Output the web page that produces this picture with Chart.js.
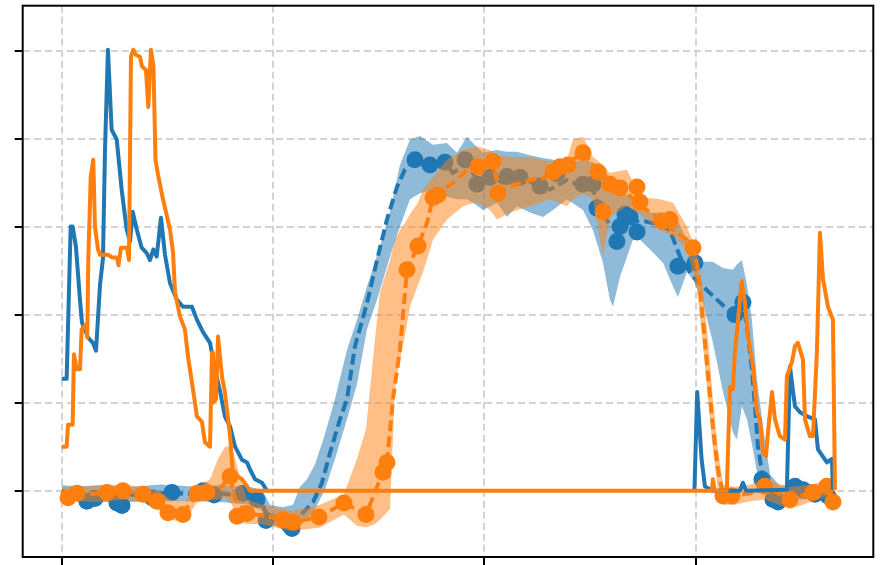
<!DOCTYPE html>
<html>
<head>
<meta charset="utf-8">
<script src="https://cdn.jsdelivr.net/npm/chart.js@4"></script>
<style>
  html, body { margin: 0; padding: 0; background: #fff; }
</style>
</head>
<body>
<canvas id="G1" width="880" height="565"></canvas>
<script>
const xTicks = [0, 200, 400, 600];
const yTicks = [0, 1, 2, 3, 4, 5];

// raw signals (null = no reading, the line is broken there)
const blueRawX = [0, 4.7, 8.5, 10.4, 13.5, 17.3, 19.2, 24.9, 29.6, 32.5, 36.3, 39.1, 41.0, 43.8, 47.3, 52.1, 56.8, 61.5, 64.7, 67.2, 71.0, 75.7, 80.5, 83.6, 86.7, 89.9, 94.0, 97.8, 102.5, 109.1, 114.8, 123.3, 128.1, 133.8, 140.4, 145.2, 149.9, 154.6, 159.4, 164.1, 170.7, 175.5, 178.3, 183.0, 189.6, 194.3, 400.0, 598.0, 599.0, 601.6, 605.8, 608.9, 615.5, 642.1, 644.9, 647.8, 686.5, 689.4, 694.1, 698.9, 706.4, 713.1, 715.9, 724.4, 729.1, 730.1];
const blueRawY = [1.27, 1.27, 3.00, 3.00, 2.77, 2.17, 1.91, 1.74, 1.68, 1.59, 2.34, 2.64, 3.87, 5.01, 4.10, 3.99, 3.42, 2.97, 2.83, 3.17, 2.97, 2.76, 2.70, 2.62, 2.74, 2.66, 3.10, 2.68, 2.36, 2.17, 2.09, 2.09, 1.94, 1.80, 1.68, 1.38, 1.13, 0.84, 0.73, 0.50, 0.35, 0.32, 0.24, 0.13, 0.09, 0.00, null, 0.00, 0.01, 1.12, 0.35, 0.05, 0.00, 0.00, 0.09, 0.00, 0.01, 1.41, 0.96, 0.89, 0.84, 0.81, 0.47, 0.32, 0.36, 0.01];

const orangeRawX = [0, 4.7, 6.0, 10.4, 11.6, 14.2, 17.3, 18.9, 23.0, 24.2, 25.2, 27.5, 29.9, 31.5, 34.4, 36.3, 43.8, 47.6, 52.3, 53.8, 56.1, 61.8, 63.7, 65.6, 67.8, 70.3, 74.1, 76.0, 79.8, 82.0, 84.5, 86.9, 88.8, 91.2, 95.9, 102.5, 105.4, 107.3, 112.0, 116.7, 119.6, 123.3, 128.1, 132.8, 135.6, 140.4, 142.3, 143.2, 146.1, 148.0, 151.7, 154.6, 159.4, 162.2, 166.9, 170.7, 178.3, 615.5, 616.4, 618.3, 629.6, 632.6, 635.4, 637.3, 643.7, 646.8, 649.7, 654.4, 658.2, 661.0, 663.9, 666.7, 668.6, 672.4, 675.2, 679.9, 684.7, 686.5, 691.3, 694.1, 696.9, 701.7, 703.6, 708.3, 711.2, 714.9, 717.8, 720.7, 725.4, 730.1, 732.0];
const orangeRawY = [0.50, 0.50, 0.75, 0.75, 1.55, 1.38, 1.38, 1.83, 1.89, 1.74, 2.62, 3.57, 3.76, 3.00, 2.74, 2.68, 2.68, 2.65, 2.65, 2.56, 2.76, 2.76, 2.62, 4.93, 5.01, 4.95, 4.93, 4.82, 4.78, 4.36, 5.01, 4.82, 3.76, 3.59, 3.31, 2.97, 2.71, 2.25, 1.98, 1.83, 1.52, 1.23, 0.84, 0.78, 0.55, 0.50, 1.57, 1.00, 1.04, 1.75, 1.30, 1.11, 0.62, 0.16, 0.16, 0.13, 0.00, 0.00, 0.13, 0.00, 0.00, 1.18, 1.15, 1.57, 2.38, 2.13, 1.75, 1.41, 0.89, 0.81, 0.43, 0.39, 0.66, 1.12, 0.81, 0.62, 0.58, 1.30, 1.46, 1.64, 1.68, 1.49, 0.81, 0.62, 0.62, 1.57, 2.93, 2.40, 2.09, 1.94, 0.01];

// fitted means
const blueMeanX = [0, 10.7, 26.8, 42.9, 58.0, 80.7, 99.7, 118.6, 137.5, 156.5, 181.1, 187.7, 194.3, 209.5, 218.9, 225.6, 237.9, 246.4, 254.0, 263.4, 270.1, 277.6, 289.0, 298.5, 307.9, 317.4, 325.0, 334.4, 348.6, 360.9, 370.4, 383.7, 393.1, 405.4, 417.8, 433.8, 446.1, 462.2, 478.3, 493.5, 502.9, 509.6, 519.0, 528.5, 538.0, 552.2, 566.4, 575.8, 585.3, 597.6, 607.0, 620.3, 635.4, 644.9, 648.7, 653.4, 656.3, 659.1, 662.9, 670.5, 679.9, 689.4, 701.7, 713.1, 727.3];
const blueMeanY = [0.00, -0.06, -0.06, -0.05, -0.04, -0.06, -0.02, -0.04, -0.02, -0.04, -0.06, -0.10, -0.27, -0.33, -0.35, -0.29, -0.13, 0.09, 0.43, 0.81, 1.04, 1.64, 2.13, 2.62, 3.08, 3.45, 3.65, 3.76, 3.70, 3.74, 3.61, 3.72, 3.53, 3.57, 3.50, 3.53, 3.50, 3.42, 3.53, 3.45, 3.42, 3.19, 3.02, 3.02, 3.06, 3.06, 3.02, 2.96, 2.66, 2.43, 2.32, 2.17, 2.00, 2.14, 1.86, 1.38, 0.96, 0.50, 0.21, -0.06, -0.18, -0.02, -0.01, -0.04, 0.01];

const orangeMeanX = [0, 6.0, 14.5, 26.8, 42.9, 58.0, 77.0, 90.2, 100.6, 114.8, 128.1, 140.4, 151.7, 159.4, 164.1, 175.4, 189.6, 209.5, 218.9, 243.6, 267.2, 288.1, 304.2, 307.9, 313.6, 320.2, 326.9, 337.3, 345.8, 351.5, 370.4, 383.7, 394.1, 408.3, 413.0, 427.2, 443.3, 455.6, 468.9, 481.2, 493.5, 507.7, 519.0, 535.1, 550.3, 566.4, 578.7, 591.9, 597.6, 602.3, 607.0, 611.8, 616.5, 621.2, 626.0, 634.5, 651.6, 665.7, 677.1, 689.4, 711.2, 724.4, 730.1];
const orangeMeanY = [-0.01, -0.08, -0.03, -0.04, -0.02, 0.00, -0.04, -0.12, -0.21, -0.25, -0.05, -0.02, 0.05, 0.16, -0.10, -0.26, -0.28, -0.33, -0.36, -0.30, -0.14, -0.27, 0.21, 0.32, 1.04, 1.60, 2.51, 2.78, 3.04, 3.33, 3.50, 3.64, 3.68, 3.74, 3.42, 3.47, 3.53, 3.55, 3.67, 3.74, 3.84, 3.62, 3.48, 3.38, 3.22, 3.08, 2.96, 2.85, 2.76, 2.51, 1.94, 1.32, 0.72, 0.24, -0.04, -0.06, -0.03, 0.05, -0.02, -0.10, -0.02, 0.05, -0.13];

// observations
const blueMarkX = [23.9, 31.5, 52.3, 57.1, 85.5, 104.4, 133.8, 144.2, 171.6, 184.9, 193.4, 215.2, 218.0, 334.4, 348.6, 362.8, 381.8, 393.1, 405.4, 421.5, 433.8, 452.8, 468.9, 493.5, 502.9, 506.7, 525.6, 528.5, 533.3, 538.0, 544.6, 583.4, 599.5, 637.3, 644.9, 662.9, 673.3, 678.1, 694.2, 701.7, 713.1, 725.4];
const blueMarkY = [-0.12, -0.09, -0.14, -0.17, -0.08, -0.02, 0.00, -0.05, -0.03, -0.10, -0.34, -0.39, -0.43, 3.76, 3.70, 3.73, 3.76, 3.48, 3.56, 3.57, 3.56, 3.46, 3.60, 3.48, 3.48, 3.21, 2.83, 3.00, 3.14, 3.11, 2.94, 2.55, 2.59, 2.00, 2.14, 0.13, -0.10, -0.13, 0.05, 0.01, -0.04, -0.06];

const orangeMarkX = [6.0, 14.5, 42.9, 58.0, 77.0, 90.2, 100.6, 114.8, 128.1, 137.5, 159.4, 166.0, 175.4, 209.5, 218.9, 243.6, 267.2, 288.1, 304.2, 307.9, 326.9, 337.3, 351.5, 356.2, 394.1, 408.3, 413.0, 465.1, 471.7, 479.3, 493.5, 507.7, 512.4, 519.0, 528.5, 544.6, 547.4, 568.3, 575.8, 597.6, 626.0, 634.5, 665.7, 689.4, 711.2, 724.4, 730.1];
const orangeMarkY = [-0.08, -0.03, -0.02, 0.00, -0.04, -0.12, -0.25, -0.27, -0.03, -0.02, 0.16, -0.29, -0.26, -0.33, -0.36, -0.30, -0.14, -0.27, 0.21, 0.32, 2.51, 2.78, 3.33, 3.36, 3.68, 3.74, 3.38, 3.62, 3.68, 3.70, 3.84, 3.62, 3.17, 3.48, 3.44, 3.45, 3.28, 3.06, 3.08, 2.76, -0.06, -0.06, 0.05, -0.10, -0.02, 0.05, -0.13];

// uncertainty bands
const blueBandX = [0, 17.3, 36.3, 64.7, 93.1, 121.5, 149.9, 178.3, 189.6, 197.2, 209.5, 218.9, 225.6, 232.2, 239.8, 249.2, 258.7, 270.1, 279.5, 289.0, 298.5, 310.8, 320.2, 329.7, 339.2, 351.5, 364.7, 374.2, 383.7, 389.3, 398.8, 412.1, 421.5, 431.0, 443.3, 455.6, 465.1, 478.3, 493.5, 502.9, 512.4, 519.0, 521.9, 528.5, 540.8, 547.4, 556.9, 569.2, 578.7, 583.4, 591.9, 597.6, 607.0, 616.5, 626.0, 635.4, 639.2, 643.9, 648.7, 653.4, 658.2, 663.9, 670.5, 679.9, 689.4, 698.9, 713.1, 727.3];
const blueBandHi = [0.06, 0.05, 0.06, 0.04, 0.07, 0.05, 0.06, 0.04, 0.01, -0.16, -0.19, -0.16, 0.04, 0.13, 0.30, 0.64, 1.04, 1.60, 1.94, 2.32, 2.67, 3.17, 3.70, 3.99, 4.03, 3.93, 3.95, 3.84, 4.02, 3.95, 3.84, 3.87, 3.85, 3.85, 3.81, 3.78, 3.76, 3.73, 3.76, 3.73, 3.65, 3.56, 3.53, 3.42, 3.31, 3.23, 3.16, 3.16, 3.14, 3.06, 2.85, 2.70, 2.60, 2.60, 2.53, 2.51, 2.57, 2.62, 2.34, 1.94, 1.26, 0.73, 0.19, 0.05, 0.07, 0.09, 0.07, 0.07];
const blueBandLo = [-0.06, -0.13, -0.13, -0.13, -0.12, -0.12, -0.13, -0.16, -0.23, -0.38, -0.44, -0.47, -0.40, -0.33, -0.21, 0.01, 0.36, 0.81, 1.21, 1.83, 2.17, 2.66, 3.00, 3.31, 3.38, 3.42, 3.34, 3.31, 3.31, 3.27, 3.19, 3.27, 3.11, 3.23, 3.16, 3.11, 3.19, 3.31, 3.19, 2.96, 2.59, 2.17, 2.09, 2.43, 2.85, 2.85, 2.74, 2.59, 2.32, 2.20, 2.48, 2.40, 2.14, 1.68, 1.12, 0.66, 0.58, 0.96, 0.81, 0.53, 0.21, 0.01, -0.13, -0.21, -0.10, -0.10, -0.10, -0.06];

const orangeBandX = [0, 17.3, 36.3, 58.0, 77.0, 93.1, 102.5, 116.7, 128.1, 140.4, 147.9, 154.6, 161.2, 166.9, 175.4, 189.6, 209.5, 218.9, 244.5, 267.2, 279.5, 288.1, 296.6, 301.3, 310.8, 315.5, 320.2, 325.0, 329.7, 337.3, 342.0, 351.5, 364.7, 379.9, 393.1, 405.4, 412.1, 424.4, 443.3, 462.2, 478.3, 484.0, 493.5, 502.9, 512.4, 519.0, 535.1, 547.4, 566.4, 578.7, 591.9, 601.4, 607.0, 611.8, 616.5, 621.2, 626.0, 637.3, 651.6, 665.7, 689.4, 711.2, 724.4, 730.1];
const orangeBandHi = [0.04, 0.04, 0.06, 0.07, 0.04, -0.01, -0.10, -0.12, 0.04, 0.13, 0.36, 0.50, 0.50, 0.24, -0.10, -0.16, -0.21, -0.23, -0.16, -0.04, 0.36, 0.70, 1.72, 2.25, 2.62, 2.85, 2.96, 3.04, 3.14, 3.27, 3.42, 3.56, 3.76, 3.87, 3.91, 3.87, 3.81, 3.79, 3.79, 3.74, 3.76, 3.99, 4.02, 3.79, 3.70, 3.61, 3.65, 3.34, 3.31, 3.27, 3.00, 2.70, 2.29, 1.72, 1.04, 0.47, 0.07, 0.04, 0.07, 0.13, 0.04, 0.07, 0.13, 0.05];
const orangeBandLo = [-0.10, -0.12, -0.13, -0.10, -0.13, -0.23, -0.33, -0.35, -0.13, -0.10, -0.10, -0.08, -0.16, -0.35, -0.38, -0.38, -0.44, -0.46, -0.42, -0.27, -0.40, -0.42, -0.38, -0.33, -0.21, 1.15, 1.49, 1.77, 2.09, 2.34, 2.48, 2.85, 3.08, 3.23, 3.28, 3.19, 3.08, 3.16, 3.23, 3.31, 3.23, 3.31, 3.38, 3.31, 2.66, 3.11, 3.23, 3.14, 2.96, 2.89, 2.74, 2.29, 1.66, 1.04, 0.47, 0.01, -0.16, -0.16, -0.12, -0.10, -0.21, -0.12, -0.06, -0.21];

const blue = "#1f77b4";
const orange = "#ff7f0e";

function pts(xs, ys) {
    return xs.map((x, i) => ({x: x, y: ys[i]}));
}

function rawLine(xs, ys, color, order) {
    return {
        data: pts(xs, ys), order: order,
        borderColor: color, borderWidth: 4, borderJoinStyle: 'round',
        pointRadius: 0, fill: false, spanGaps: false
    };
}

function meanLine(xs, ys, color, order) {
    return {
        data: pts(xs, ys), order: order,
        borderColor: color, borderWidth: 4, borderDash: [11, 5],
        pointRadius: 0, fill: false
    };
}

function markers(xs, ys, color, order) {
    return {
        data: pts(xs, ys), order: order, showLine: false,
        pointRadius: 8.5, pointBackgroundColor: color, pointBorderWidth: 0,
        borderColor: color
    };
}

function band(xs, ys, color, order, fill) {
    return {
        data: pts(xs, ys), order: order,
        borderColor: 'rgba(0,0,0,0)', borderWidth: 0,
        backgroundColor: color, pointRadius: 0, fill: fill
    };
}

const frame = {
    id: 'frame',
    afterDatasetsDraw(chart) {
        const a = chart.chartArea;
        const ctx = chart.ctx;
        ctx.save();
        ctx.strokeStyle = '#000';
        ctx.lineWidth = 2;
        ctx.strokeRect(a.left, a.top, a.right - a.left, a.bottom - a.top);
        ctx.restore();
    }
};

const gridOpts = {
    color: '#d3d3d3', lineWidth: 2,
    tickLength: 8, tickColor: '#000', tickWidth: 2
};

new Chart(document.getElementById("G1"), {
    type: 'line',
    data: {
        datasets: [
            rawLine(orangeRawX, orangeRawY, orange, 0),
            rawLine(blueRawX, blueRawY, blue, 1),
            markers(orangeMarkX, orangeMarkY, orange, 2),
            meanLine(orangeMeanX, orangeMeanY, orange, 3),
            band(orangeBandX, orangeBandHi, 'rgba(255,127,14,0.5)', 4, '+1'),
            band(orangeBandX, orangeBandLo, 'rgba(255,127,14,0.5)', 5, false),
            markers(blueMarkX, blueMarkY, blue, 6),
            meanLine(blueMeanX, blueMeanY, blue, 7),
            band(blueBandX, blueBandHi, 'rgba(31,119,180,0.5)', 8, '+1'),
            band(blueBandX, blueBandLo, 'rgba(31,119,180,0.5)', 9, false)
        ]
    },
    options: {
        responsive: false,
        animation: false,
        devicePixelRatio: 1,
        layout: { padding: { left: 14.7, right: 6.7, top: 5.7, bottom: 0 }, autoPadding: false },
        plugins: { legend: { display: false }, tooltip: { enabled: false } },
        scales: {
            x: {
                type: 'linear', min: -36.9, max: 768.3,
                afterBuildTicks: s => { s.ticks = xTicks.map(v => ({value: v})); },
                ticks: { display: false },
                grid: gridOpts,
                border: { display: false, dash: [7, 4] }
            },
            y: {
                type: 'linear', min: -0.754, max: 5.51,
                afterBuildTicks: s => { s.ticks = yTicks.map(v => ({value: v})); },
                ticks: { display: false },
                grid: gridOpts,
                border: { display: false, dash: [7, 4] }
            }
        }
    },
    plugins: [frame]
});
</script>
</body>
</html>
